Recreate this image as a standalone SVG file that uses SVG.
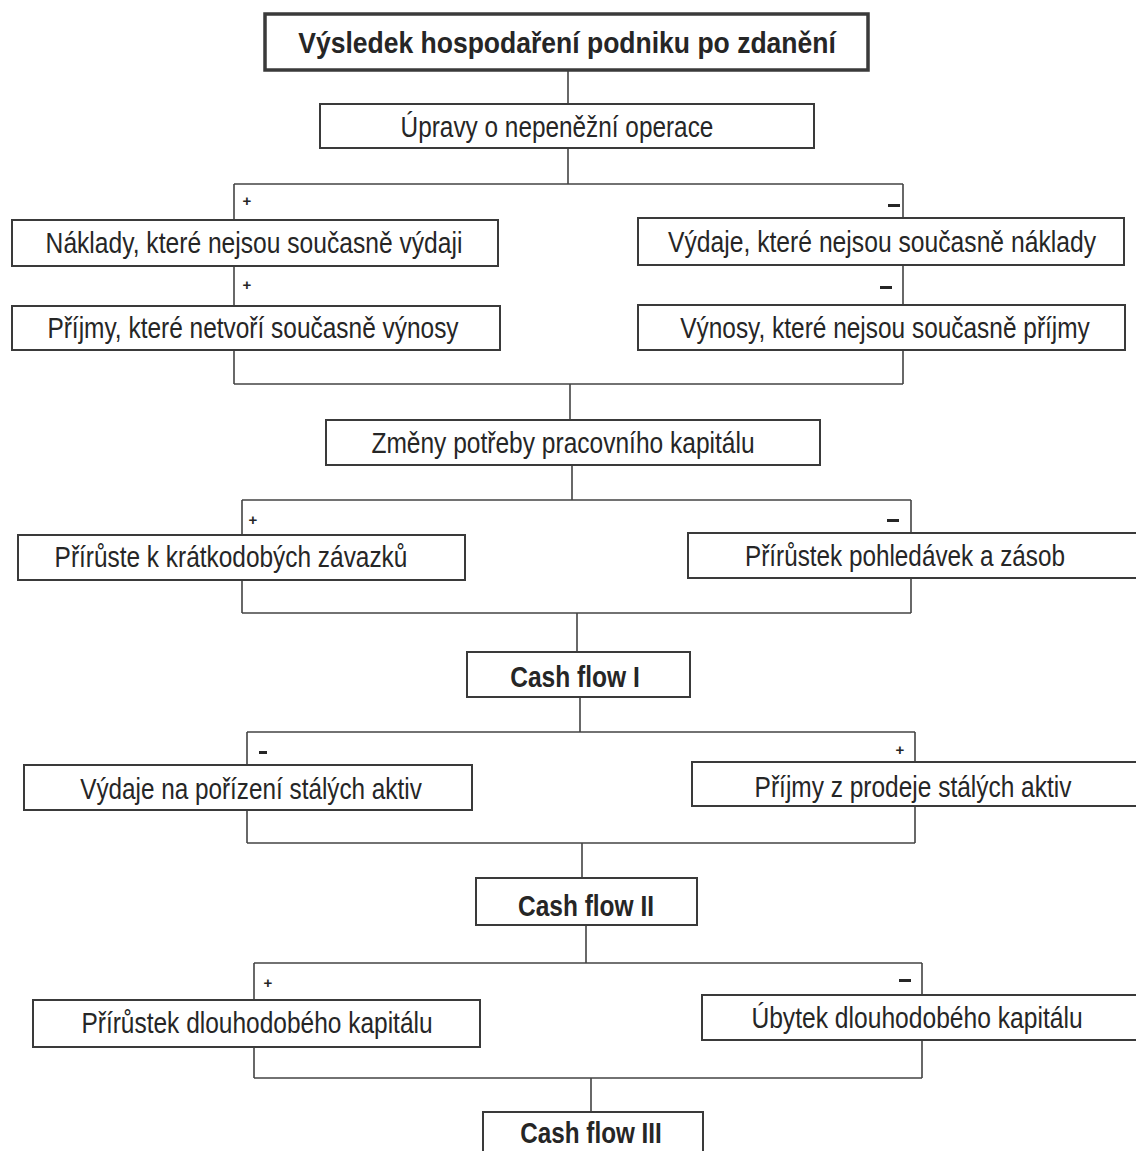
<svg xmlns="http://www.w3.org/2000/svg" width="1136" height="1151" viewBox="0 0 1136 1151">
<style>
.box{fill:#fff;stroke:#3a3a3a;stroke-width:2}
.top{fill:#fff;stroke:#3a3a3a;stroke-width:3.5}
.t{font-family:"Liberation Sans",Arial,sans-serif;font-size:30px;fill:#262626;text-anchor:middle}
.b{font-weight:bold}
.s{font-family:"Liberation Sans",Arial,sans-serif;font-size:15px;fill:#262626;text-anchor:middle;font-weight:bold}
.c{fill:none;stroke:#444;stroke-width:1.6}
</style>
<rect width="1136" height="1151" fill="#fff"/>
<g id="connectors">
<path class="c" d="M568 70V105M568 148V184M234 184H903M234 184V384M903 184V384M234 384H903"/>
<path class="c" d="M570 384V420M572 465V500M242 500H911M242 500V613M911 500V613M242 613H911"/>
<path class="c" d="M577 613V652M580 697V732M247 732H915M247 732V843M915 732V843M247 843H915"/>
<path class="c" d="M582 843V878M586 925V963M254 963H922M254 963V1078M922 963V1078M254 1078H922M591 1078V1112"/>
</g>
<g id="signs">
<text class="s" x="247" y="206">+</text>
<rect x="888" y="204" width="12" height="3" fill="#262626"/>
<text class="s" x="247" y="290">+</text>
<rect x="880" y="286" width="12" height="3" fill="#262626"/>
<text class="s" x="253" y="525">+</text>
<rect x="887" y="519" width="12" height="3" fill="#262626"/>
<rect x="259" y="751" width="8" height="3" fill="#262626"/>
<text class="s" x="900" y="755">+</text>
<text class="s" x="268" y="988">+</text>
<rect x="899" y="979" width="12" height="3" fill="#262626"/>
</g>
<g id="n1"><rect class="top" x="265" y="14" width="603" height="56"/><text class="t b" transform="translate(567 53) scale(0.8 1)" textLength="672" lengthAdjust="spacingAndGlyphs">Výsledek hospodaření podniku po zdanění</text></g>
<g id="n2"><rect class="box" x="320" y="104" width="494" height="44"/><text class="t" transform="translate(557 137) scale(0.8 1)" textLength="391" lengthAdjust="spacingAndGlyphs">Úpravy o nepeněžní operace</text></g>
<g id="n3"><rect class="box" x="12" y="220" width="486" height="46"/><text class="t" transform="translate(254 253) scale(0.8 1)" textLength="521" lengthAdjust="spacingAndGlyphs">Náklady, které nejsou současně výdaji</text></g>
<g id="n4"><rect class="box" x="12" y="306" width="488" height="44"/><text class="t" transform="translate(253 338) scale(0.8 1)" textLength="514" lengthAdjust="spacingAndGlyphs">Příjmy, které netvoří současně výnosy</text></g>
<g id="n5"><rect class="box" x="638" y="218" width="486" height="47"/><text class="t" transform="translate(882 252) scale(0.8 1)" textLength="535" lengthAdjust="spacingAndGlyphs">Výdaje, které nejsou současně náklady</text></g>
<g id="n6"><rect class="box" x="638" y="305" width="487" height="45"/><text class="t" transform="translate(885 338) scale(0.8 1)" textLength="512" lengthAdjust="spacingAndGlyphs">Výnosy, které nejsou současně příjmy</text></g>
<g id="n7"><rect class="box" x="326" y="420" width="494" height="45"/><text class="t" transform="translate(563 453) scale(0.8 1)" textLength="479" lengthAdjust="spacingAndGlyphs">Změny potřeby pracovního kapitálu</text></g>
<g id="n8"><rect class="box" x="18" y="535" width="447" height="45"/><text class="t" transform="translate(231 567) scale(0.8 1)" textLength="441" lengthAdjust="spacingAndGlyphs">Přírůste k krátkodobých závazků</text></g>
<g id="n9"><rect class="box" x="688" y="533" width="454" height="45"/><text class="t" transform="translate(905 566) scale(0.8 1)" textLength="400" lengthAdjust="spacingAndGlyphs">Přírůstek pohledávek a zásob</text></g>
<g id="n10"><rect class="box" x="467" y="652" width="223" height="45"/><text class="t b" transform="translate(575 687) scale(0.8 1)" textLength="162" lengthAdjust="spacingAndGlyphs">Cash flow I</text></g>
<g id="n11"><rect class="box" x="24" y="765" width="448" height="45"/><text class="t" transform="translate(251 799) scale(0.8 1)" textLength="427" lengthAdjust="spacingAndGlyphs">Výdaje na pořízení stálých aktiv</text></g>
<g id="n12"><rect class="box" x="692" y="762" width="450" height="44"/><text class="t" transform="translate(913 797) scale(0.8 1)" textLength="396" lengthAdjust="spacingAndGlyphs">Příjmy z prodeje stálých aktiv</text></g>
<g id="n13"><rect class="box" x="476" y="878" width="221" height="47"/><text class="t b" transform="translate(586 916) scale(0.8 1)" textLength="170" lengthAdjust="spacingAndGlyphs">Cash flow II</text></g>
<g id="n14"><rect class="box" x="33" y="1000" width="447" height="47"/><text class="t" transform="translate(257 1033) scale(0.8 1)" textLength="439" lengthAdjust="spacingAndGlyphs">Přírůstek dlouhodobého kapitálu</text></g>
<g id="n15"><rect class="box" x="702" y="995" width="440" height="45"/><text class="t" transform="translate(917 1028) scale(0.8 1)" textLength="414" lengthAdjust="spacingAndGlyphs">Úbytek dlouhodobého kapitálu</text></g>
<g id="n16"><rect class="box" x="483" y="1112" width="220" height="50"/><text class="t b" transform="translate(591 1143) scale(0.8 1)" textLength="177" lengthAdjust="spacingAndGlyphs">Cash flow III</text></g>
</svg>
